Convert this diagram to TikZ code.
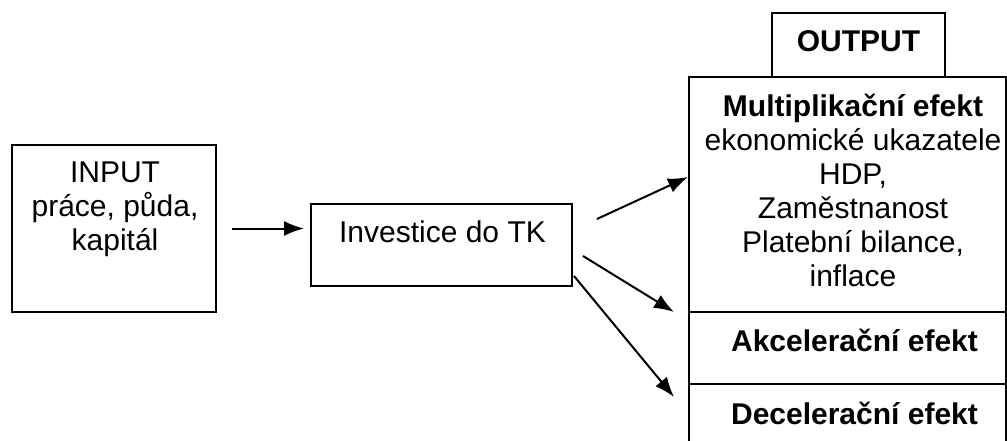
\documentclass[tikz,border=0pt]{standalone}
\usepackage{fontspec}
\setmainfont{Liberation Sans}
\usetikzlibrary{positioning,calc,arrows.meta}

\begin{document}
\begin{tikzpicture}[x=1pt, y=-1pt,
    rbox/.style={draw, line width=2pt, inner sep=0pt},
    btext/.style={inner sep=0pt, align=center, font=\fontsize{30}{34}\selectfont},
    arrowline/.style={line width=2pt, -{Latex[length=20pt,width=15pt]}}]
    \useasboundingbox (0,0) rectangle (1007,441);
    \clip (0,0) rectangle (1007,441);

    % boxes
    \node[rbox, minimum width=204, minimum height=167] (inputbox) at (114,228.5) {};
    \node[rbox, minimum width=261, minimum height=82] (invbox) at (441.5,245) {};
    \node[rbox, minimum width=173, minimum height=64] (outbox) at (858.5,45) {};
    \node[rbox, minimum width=317, minimum height=235] (multibox) at (847.5,194.5) {};
    \node[rbox, minimum width=317, minimum height=72] (accelbox) at (847.5,348) {};
    \node[rbox, minimum width=317, minimum height=86] (decelbox) at (847.5,427) {};

    % texts
    \node[btext, below=18pt of inputbox.north, xshift=1pt] (inputtxt) {INPUT\\práce, půda,\\kapitál};
    \node[btext, below=18pt of invbox.north, xshift=1pt] (invtxt) {Investice do TK};
    \node[btext, below=18pt of outbox.north] (outtxt) {\textbf{OUTPUT}};
    \node[btext, below=18pt of multibox.north, xshift=5.5pt] (multitxt)
        {\textbf{Multiplikační efekt}\\ekonomické ukazatele\\HDP,\\Zaměstnanost\\Platební bilance,\\inflace};
    \node[btext, below=18pt of accelbox.north, xshift=7pt] (acceltxt) {\textbf{Akcelerační efekt}};
    \node[btext, below=19pt of decelbox.north, xshift=7pt] (deceltxt) {\textbf{Decelerační efekt}};

    % arrows
    \draw[arrowline] ([xshift=15pt]inputbox.east) -- ([xshift=-6pt]inputbox.east -| invbox.west);
    \draw[arrowline] ($(invbox.east)+(24,-26)$) -- ([yshift=17.5pt]multibox.west);
    \draw[arrowline] ($(invbox.east)+(10,11)$) -- ($(multibox.south west)+(-14,-1)$);
    \draw[arrowline] ($(invbox.east)+(1,31)$) -- ($(accelbox.south west)+(-14,12)$);
\end{tikzpicture}
\end{document}
